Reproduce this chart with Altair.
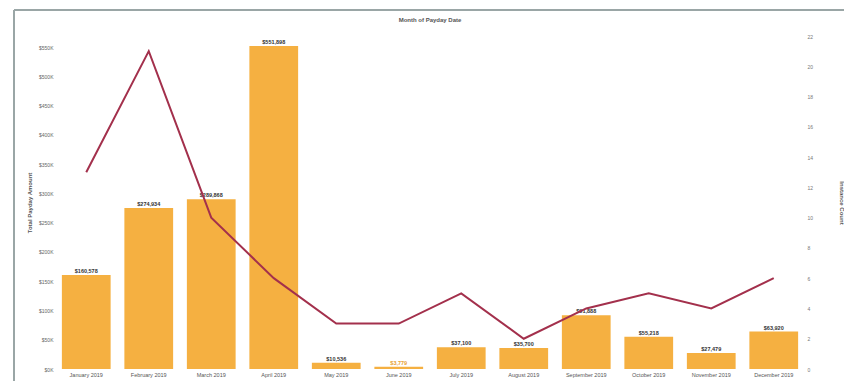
import altair as alt
import pandas as pd

months = ["January 2019", "February 2019", "March 2019", "April 2019", "May 2019", "June 2019",
          "July 2019", "August 2019", "September 2019", "October 2019", "November 2019", "December 2019"]
amounts = [160578, 274934, 289868, 551898, 10536, 3779, 37100, 35700, 91888, 55218, 27479, 63920]
counts = [13, 21, 10, 6, 3, 3, 5, 2, 4, 5, 4, 6]

df = pd.DataFrame({"month": months, "amount": amounts, "count": counts})
df["label"] = df["amount"].map(lambda v: "${:,}".format(v))

x = alt.X("month:N", sort=months, title=None,
          axis=alt.Axis(labelAngle=0, labelFontSize=5.5, labelColor="#555", ticks=False,
                        domain=False, labelPadding=3),
          scale=alt.Scale(paddingInner=0.22, paddingOuter=0.11))

ya = alt.Y("amount:Q", title="Total Payday Amount",
           scale=alt.Scale(domain=[0, 569000], nice=False),
           axis=alt.Axis(values=list(range(0, 550001, 50000)),
                         labelExpr="'$' + datum.value/1000 + 'K'",
                         labelFontSize=5, labelColor="#666", ticks=False, domain=False, grid=False,
                         titleFontSize=6, titleColor="#555", titlePadding=6))

bars = alt.Chart(df).mark_bar(color="#F5B041").encode(x=x, y=ya)
text = alt.Chart(df).mark_text(dy=-4, fontSize=5.5, fontWeight="bold").encode(
    x=x, y=ya,
    text="label:N",
    color=alt.condition(alt.datum.amount < 5000, alt.value("#E8A030"), alt.value("#333")))

line = alt.Chart(df).mark_line(color="#A3304C", strokeWidth=2).encode(
    x=x,
    y=alt.Y("count:Q", title="Instance Count",
            scale=alt.Scale(domain=[0, 22], nice=False),
            axis=alt.Axis(orient="right", values=list(range(0, 23, 2)), labelFontSize=5,
                          labelColor="#777", ticks=False, domain=False, grid=False,
                          titleFontSize=6, titleColor="#555", titlePadding=26)))

frame_top = alt.Chart(df).mark_rule(color="#9AA6A6", strokeWidth=2, clip=False).encode(
    x=alt.value(-41), x2=alt.value(800), y=alt.value(-26))
frame_left = alt.Chart(df).mark_rule(color="#9AA6A6", strokeWidth=2, clip=False).encode(
    x=alt.value(-41), y=alt.value(-26), y2=alt.value(345))

chart = alt.layer(bars + text, line, frame_top + frame_left).resolve_scale(y="independent").properties(
    width=750, height=333,
    view=alt.ViewBackground(stroke="transparent", strokeWidth=0),
    title=alt.TitleParams("Month of Payday Date", fontSize=6, color="#555", fontWeight="bold",
                          anchor="middle", offset=-14),
    autosize=alt.AutoSizeParams(type="none"),
    padding={"left": 55, "top": 36, "right": 39, "bottom": 12},
).configure_view(stroke="transparent", strokeWidth=0).configure(background="white")

chart.save("out.html", embed_options={"renderer": "svg", "actions": False})
